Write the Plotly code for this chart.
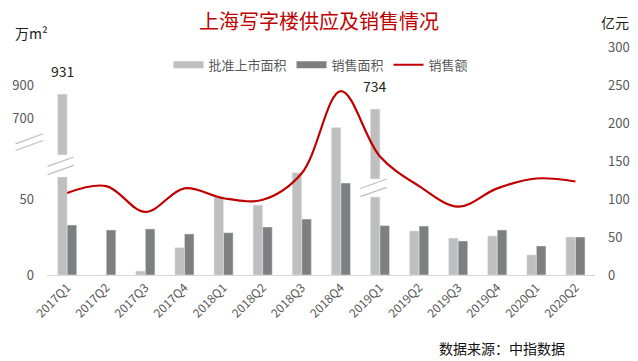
import plotly.graph_objects as go

categories = ['2017Q1', '2017Q2', '2017Q3', '2017Q4', '2018Q1', '2018Q2', '2018Q3',
              '2018Q4', '2019Q1', '2019Q2', '2019Q3', '2019Q4', '2020Q1', '2020Q2']
# 批准上市面积 (lower part of the broken scale, 万m²)
approved = [64.5, 0, 2.6, 18, 51.5, 46, 67.3, 97, 51.3, 29, 24.3, 25.7, 13.2, 25]
# broken bars: index, start of upper segment, top of upper segment (display units), real value
break_idx = [0, 8]
break_base = [79, 63.2]
break_top = [119, 109.2]
break_values = [931, 734]
# 销售面积 (万m²)
sales_area = [32.9, 29.6, 30.3, 27, 27.8, 31.6, 36.8, 60.5, 32.5, 32.2, 22.4, 29.6, 19.1, 25]
# 销售额 (亿元)
sales_amount = [108, 117, 83, 114, 101, 99, 134, 242, 156, 117, 90, 114, 127, 123]

left_tickvals = [0, 50, 103.3, 125]
left_ticktext = ['0', '50', '700', '900']
right_ticks = [0, 50, 100, 150, 200, 250, 300]

FONT = "Noto Sans CJK SC"
LIGHT = '#BFBFBF'
DARK = '#7F7F7F'
RED = '#C00000'

fig = go.Figure()
fig.add_trace(go.Bar(x=categories, y=approved, name='批准上市面积', marker_color=LIGHT,
                     offsetgroup='a', showlegend=False))
fig.add_trace(go.Bar(x=[categories[i] for i in break_idx],
                     y=[t - b for t, b in zip(break_top, break_base)],
                     base=break_base, marker_color=LIGHT, offsetgroup='a',
                     showlegend=False))
fig.add_trace(go.Bar(x=categories, y=sales_area, name='销售面积', marker_color=DARK,
                     offsetgroup='b', showlegend=False))
fig.add_trace(go.Scatter(x=categories, y=sales_amount, name='销售额', mode='lines',
                         line=dict(color=RED, width=2.2, shape='spline', smoothing=1),
                         yaxis='y2', showlegend=False))
# legend keys (wide rectangles like the original)
for name, color, w in [('批准上市面积', LIGHT, 7), ('销售面积', DARK, 7), ('销售额', RED, 2.2)]:
    fig.add_trace(go.Scatter(x=[None], y=[None], mode='lines', name=name,
                             line=dict(color=color, width=w)))

shapes = []
# break marks on bars
for k, i in enumerate(break_idx):
    lo = approved[i]
    hi = break_base[k]
    mid = (lo + hi) / 2
    x0 = i - 0.5
    x1 = i + 0.17
    for a, b in [(mid - 5.7, mid + 0.4), (mid - 0.3, mid + 5.9)]:
        shapes.append(dict(type='line', xref='x', yref='y', x0=x0, x1=x1, y0=a, y1=b,
                           line=dict(color=LIGHT, width=1.2)))
# break marks on left axis
for a, b in [(86.6, 93.2), (82.2, 88.8)]:
    shapes.append(dict(type='line', xref='paper', yref='y', x0=-0.0575, x1=-0.007,
                       y0=a - 0.3, y1=b - 0.3, line=dict(color=LIGHT, width=1.2)))

annotations = []
for k, i in enumerate(break_idx):
    annotations.append(dict(x=i - 0.12, y=break_top[k], xref='x', yref='y',
                            text=str(break_values[k]), showarrow=False,
                            yanchor='middle', yshift=23,
                            font=dict(family=FONT, size=14, color='#222222')))
annotations += [
    dict(text='万m²', xref='paper', yref='paper', x=-0.062, y=1.063, xanchor='left',
         yanchor='middle', showarrow=False, font=dict(family=FONT, size=14, color='#222222')),
    dict(text='亿元', xref='paper', yref='paper', x=1.036, y=1.11, xanchor='center',
         yanchor='middle', showarrow=False, font=dict(family=FONT, size=14, color='#222222')),
    dict(text='数据来源：中指数据', xref='paper', yref='paper', x=0.831, y=-0.32,
         xanchor='center', yanchor='middle', showarrow=False,
         font=dict(family=FONT, size=14, color='#111111')),
]

fig.update_layout(
    width=638, height=361,
    margin=dict(l=46.5, r=43.4, t=47, b=86, autoexpand=False),
    paper_bgcolor='white', plot_bgcolor='white',
    font=dict(family=FONT, size=12, color='#595959'),
    title=dict(text='上海写字楼供应及销售情况', x=0.5, xanchor='center', y=0.94,
               yref='container', yanchor='middle',
               font=dict(family=FONT, size=20, color=RED)),
    barmode='group', bargap=0.51, bargroupgap=0,
    legend=dict(orientation='h', x=0.5, xanchor='center', y=0.922, yanchor='middle',
                bgcolor='rgba(0,0,0,0)', font=dict(family=FONT, size=13, color='#595959'),
                traceorder='normal'),
    xaxis=dict(showline=True, linecolor='#D9D9D9', linewidth=1, tickangle=-45,
               ticks='', showgrid=False, automargin=False,
               tickfont=dict(size=12, color='#595959')),
    yaxis=dict(range=[0, 150], tickvals=left_tickvals, ticktext=left_ticktext,
               showgrid=False, zeroline=False, showline=False, ticks='', automargin=False,
               ticklabelstandoff=12, tickfont=dict(size=13, color='#595959')),
    yaxis2=dict(range=[0, 300], tickvals=right_ticks, overlaying='y', side='right',
                showgrid=False, zeroline=False, showline=False, ticks='', automargin=False,
                ticklabelstandoff=12, tickfont=dict(size=13, color='#595959')),
    shapes=shapes, annotations=annotations,
)

fig.write_html("out.html", config={'displayModeBar': False},
               post_script="document.body.style.margin='0';document.body.style.overflow='hidden';")
